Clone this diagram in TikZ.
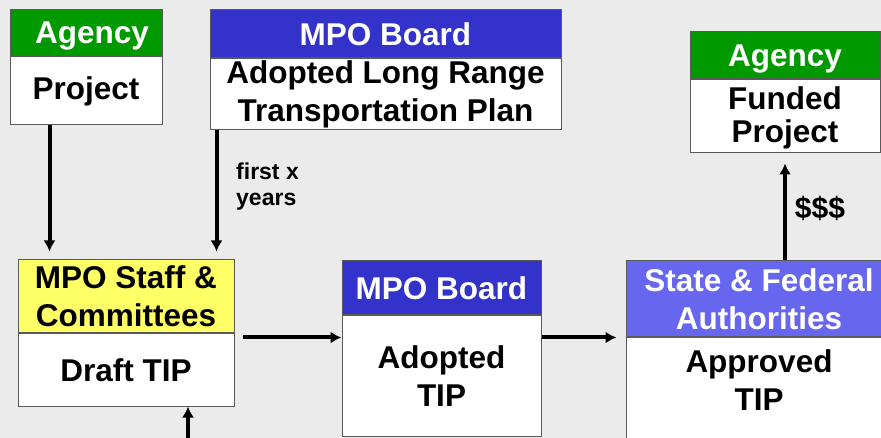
\documentclass[tikz,border=0pt]{standalone}
\usepackage{fontspec}
\setmainfont{Liberation Sans}
\usepackage{xcolor}
\usetikzlibrary{arrows.meta, positioning}

\definecolor{agencygreen}{HTML}{009900}
\definecolor{boardblue}{HTML}{3333CC}
\definecolor{stateblue}{HTML}{6666EE}
\definecolor{staffyellow}{HTML}{FFFF66}
\definecolor{backgray}{HTML}{EBEBEB}

\tikzset{
    hdr/.style={rectangle, draw=black!65, line width=1pt, inner sep=0pt, text=white, align=center,
        font=\bfseries\fontsize{31.5}{38}\selectfont},
    body/.style={rectangle, draw=black!65, line width=1pt, fill=white, inner sep=0pt, align=center,
        font=\bfseries\fontsize{31.5}{38}\selectfont},
    lbl/.style={inner sep=0pt, align=left, font=\bfseries\fontsize{23}{26}\selectfont},
    flow/.style={-{Latex[length=11pt,width=12pt]}, line width=4pt},
}

\begin{document}
\begin{tikzpicture}[x=1pt, y=-1pt]
    \useasboundingbox[fill=backgray] (0,0) rectangle (881,438);
    \node (agc1) [hdr, fill=agencygreen, minimum width=152pt, minimum height=46pt, text depth=0pt, text width=126pt, align=right] at (86,33) {Agency};
    \node (prj) [body, below=0pt of agc1, minimum width=152pt, minimum height=68pt] {Project};
    \node (brd1) [hdr, fill=boardblue, minimum width=351pt, minimum height=48pt] at (385.5,34) {MPO Board};
    \node (lrtp) [body, below=0pt of brd1, minimum width=351pt, minimum height=71pt] {Adopted Long Range\\Transportation Plan};
    \node (stf) [hdr, fill=staffyellow, text=black, minimum width=216pt, minimum height=73pt] at (126,296.5) {MPO Staff \&\\Committees};
    \node (draft) [body, below=0pt of stf, minimum width=216pt, minimum height=72pt] {Draft TIP};
    \node (brd2) [hdr, fill=boardblue, minimum width=199pt, minimum height=54pt] at (441.5,288) {MPO Board};
    \node (tip) [body, below=0pt of brd2, minimum width=199pt, minimum height=120pt] {Adopted\\TIP};
    \node (auth) [hdr, fill=stateblue, minimum width=266pt, minimum height=76pt] at (759,299) {State \& Federal\\Authorities};
    \node (appr) [body, below=0pt of auth, minimum width=266pt, minimum height=104pt, text depth=20pt] {Approved\\TIP};
    \node (agc2) [hdr, fill=agencygreen, minimum width=190pt, minimum height=47pt, text depth=0pt] at (785,55.5) {Agency};
    \node (fund) [body, below=0pt of agc2, minimum width=190pt, minimum height=73pt, text depth=4pt] {Funded\\[-5pt]Project};
    \node (yrs) [lbl, anchor=north west] at (236,163) {first x\\years};
    \node (cash) [lbl, font=\bfseries\fontsize{30}{34}\selectfont] at (820,208) {\$\$\$};
    \coordinate (feed) at (188,438);
    \draw[flow, shorten >=8pt] ([xshift=40pt]prj.south west) -- ([xshift=40pt]prj.south west |- stf.north);
    \draw[flow, shorten >=8pt] ([xshift=7pt]lrtp.south west) -- ([xshift=7pt]lrtp.south west |- stf.north);
    \draw[flow] (feed) -- (feed |- draft.south);
    \draw[flow, shorten <=8pt] ([yshift=-4pt]draft.north east) -- ([yshift=-4pt]draft.north east -| tip.west);
    \draw[flow, shorten >=9pt] ([yshift=-22pt]tip.north east) -- ([yshift=-22pt]tip.north east -| appr.west);
    \draw[flow, shorten >=10pt] (fund.south |- auth.north) -- (fund.south);
\end{tikzpicture}
\end{document}
